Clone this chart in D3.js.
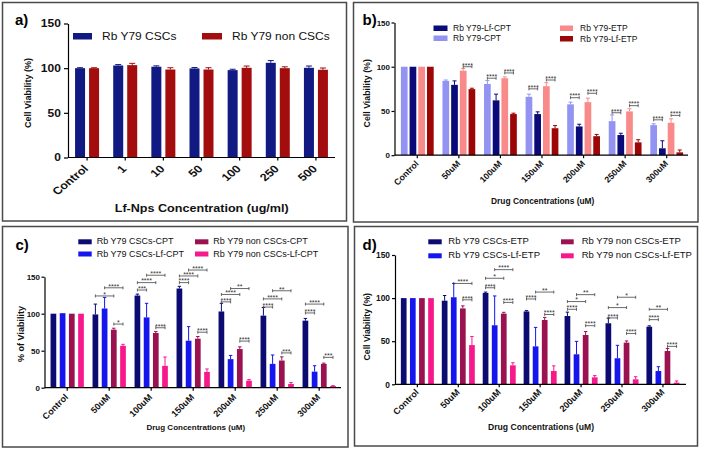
<!DOCTYPE html>
<html><head><meta charset="utf-8">
<script src="https://cdn.jsdelivr.net/npm/d3@7"></script>
<style>body{margin:0;background:#fff}svg{display:block}text{font-family:Arial,"Liberation Sans",sans-serif}</style>
</head><body><svg id="c" width="702" height="450"></svg>
<script>
// ---------- data ----------
const yTicks=[0,50,100,150];
const aCats=["Control","1","10","50","100","250","500"];
const aCSC=[100,103,101.6,99.7,97.8,106,100.4];
const aCSCErr=[0.5,1,1,1,1,2.5,2];
const aNon=[100,103.4,98.5,98.5,100.4,100,98.2];
const aNonErr=[0.5,2,2,2,2,1.5,2];

const drugCats=["Control","50uM","100uM","150uM","200uM","250uM","300uM"];
const bCPT=[100,84,80.5,66,57.5,38.5,34];
const bCPTErr=[0,1,4,3,2.5,7,1.5];
const bLfCPT=[100,79.5,62,46.5,32.5,22.8,7.8];
const bLfCPTErr=[0,4.5,7,2.5,2.5,2,8.5];
const bETP=[100,95.5,87,78,60,49.5,36.6];
const bETPErr=[0,2.5,1.5,4,4.5,3,4.5];
const bLfETP=[100,74.7,46.5,30.5,21.5,14.5,3.2];
const bLfETPErr=[0,1,1,3,2,3,2.7];
// [group, series from, series to, bracket value, label]
const bSig=[[1,2,3,100,"****"],[2,0,1,87,"****"],[2,2,3,93,"****"],[3,0,1,75,"****"],[3,2,3,85,"****"],
  [4,0,1,65,"****"],[4,2,3,70,"****"],[5,0,1,48,"****"],[5,2,3,56,"****"],[6,0,1,40,"****"],[6,2,3,45,"****"]];

const cCscCPT=[100,99,124.5,134,103,97.4,90.6];
const cCscCPTErr=[0,14,2,3,11,11,3];
const cCscLfCPT=[100.7,107,95,63.5,38.6,32.2,21.7];
const cCscLfCPTErr=[0,15,19,19,5,12,8];
const cNonCPT=[100,78.4,73.9,66.2,52.2,36.7,32.2];
const cNonCPTErr=[0,2,2,3,3,5,1];
const cNonLfCPT=[100,56.6,29.5,21.3,9.5,5,2.3];
const cNonLfCPTErr=[0,2,12,4,1.5,2,0.5];
const cSig=[[1,0,2,124,"*"],[1,1,3,135,"****"],[1,2,3,86,"*"],
  [2,0,1,132,"***"],[2,0,2,142,"****"],[2,1,3,152,"****"],[2,2,3,81,"****"],
  [3,0,1,142,"****"],[3,0,2,151,"****"],[3,1,3,159,"****"],[3,2,3,75,"****"],
  [4,0,1,116,"****"],[4,0,2,126,"****"],[4,1,3,134,"**"],[4,2,3,63,"****"],
  [5,0,1,109,"****"],[5,0,2,120,"****"],[5,1,3,131,"**"],[5,2,3,47,"***"],
  [6,0,1,101,"****"],[6,0,2,113,"****"],[6,2,3,41,"***"]];

const dCscETP=[100,97,106,84.5,79.2,70.8,66.8];
const dCscETPErr=[0,6,1,1,4.5,6,1];
const dCscLfETP=[100,101,68.5,44,34.8,30.2,15.4];
const dCscLfETPErr=[0,16,34,22,15,15,5];
const dNonETP=[100,88,82,74.6,57.2,48.3,38.6];
const dNonETPErr=[0,3,1.5,3,4,2,3];
const dNonLfETP=[100,45.5,22,15.4,8.1,5.8,1.9];
const dNonLfETPErr=[0,10,3,6,2,3,2];
const dSig=[[1,1,3,117,"****"],[1,2,3,98,"****"],
  [2,0,1,112,"****"],[2,0,2,123,"*"],[2,1,3,133,"****"],[2,2,3,95,"****"],
  [3,0,1,99,"****"],[3,1,3,107,"**"],[3,2,3,81,"****"],
  [4,0,1,87,"****"],[4,0,2,96,"*"],[4,1,3,104,"**"],[4,2,3,68,"****"],
  [5,0,1,77,"****"],[5,0,2,89,"*"],[5,1,3,101,"*"],[5,2,3,59,"****"],
  [6,0,1,75,"****"],[6,0,2,87,"**"],[6,2,3,44,"****"]];

// ---------- drawing ----------
const svg=d3.select("#c");
function txt(g,x,y,s,o){
  o=o||{};
  const sx=o.sx||1, th=(o.rot||0)*Math.PI/180, c=Math.cos(th), sn=Math.sin(th);
  const m=[sx*c, sn, -sx*sn, c, x, y].map(v=>+v.toFixed(4));
  const t=g.append("text")
    .attr("transform",`matrix(${m.join(",")})`)
    .attr("font-size",o.size||9).attr("font-weight",o.bold?"bold":"normal")
    .attr("text-anchor",o.anchor||"start").attr("fill",o.fill||"#111").text(s);
  if(o.family) t.attr("font-family",o.family);
  return t;
}

function panel(cfg){
  const g=svg.append("g");
  const f=cfg.frame;
  g.append("rect").attr("x",f[0]).attr("y",f[1]).attr("width",f[2]-f[0]).attr("height",f[3]-f[1])
    .attr("fill","none").attr("stroke","#4a4a4a").attr("stroke-width",1.5);
  txt(g,cfg.tag[0],cfg.tag[1],cfg.tag[2],{size:15,bold:true,family:"'Liberation Serif','Times New Roman',serif",fill:"#000"});

  const x=d3.scaleBand().domain(cfg.cats).range([cfg.bx0,cfg.bx1]);
  const y=d3.scaleLinear().domain([0,150]).range([cfg.y0,cfg.y1]);
  const n=cfg.series.length;
  const gw=n*cfg.step-cfg.gap;
  const inner=d3.scaleBand().domain(d3.range(n)).range([0,gw]).paddingInner(cfg.gap/cfg.step);
  const bw=inner.bandwidth();
  const bx=(ci,si)=>x(cfg.cats[ci])+x.bandwidth()/2-gw/2+inner(si);

  cfg.series.forEach((s,si)=>{
    g.append("g").selectAll("rect").data(s.vals).join("rect")
      .attr("x",(d,i)=>bx(i,si)).attr("y",d=>y(d))
      .attr("width",bw).attr("height",d=>y(0)-y(d)).attr("fill",s.color);
    const eg=g.append("g").attr("stroke",s.color).attr("stroke-width",1).attr("fill","none");
    s.vals.forEach((v,i)=>{
      const e=s.errs[i]; if(!e) return;
      const cx=bx(i,si)+bw/2, cap=Math.max(1.5,bw*0.3);
      eg.append("path").attr("d",`M${cx},${y(v)}V${y(v+e)}M${cx-cap},${y(v+e)}H${cx+cap}`);
    });
  });

  // significance brackets
  const sg=g.append("g");
  (cfg.sig||[]).forEach(([ci,s1,s2,v,lab])=>{
    const xa=bx(ci,s1)+bw/2, xb=bx(ci,s2)+bw/2, yy=y(v);
    sg.append("path").attr("d",`M${xa},${yy-1.5}V${yy+1.5}M${xa},${yy}H${xb}M${xb},${yy-1.5}V${yy+1.5}`)
      .attr("stroke","#444").attr("stroke-width",0.8).attr("fill","none");
    txt(sg,(xa+xb)/2,yy+0.8,lab,{size:7,anchor:"middle",fill:"#333"});
  });

  // y axis
  const ya=g.append("g").attr("transform",`translate(${cfg.ax},0)`)
    .call(d3.axisLeft(y).tickValues(yTicks).tickSize(cfg.ytick).tickSizeOuter(0).tickPadding(cfg.ypad));
  ya.select(".domain").attr("stroke","#000").attr("stroke-width",1.2);
  ya.selectAll(".tick line").attr("stroke","#000").attr("stroke-width",1.2);
  ya.selectAll(".tick text").attr("font-size",cfg.yts).attr("font-weight","bold").attr("fill","#111")
    .attr("font-family","Arial,'Liberation Sans',sans-serif")
    .attr("transform",`scale(${cfg.sx},1)`);
  // x axis
  const xa=g.append("g").attr("transform",`translate(0,${cfg.y0})`)
    .call(d3.axisBottom(x).tickSize(3).tickSizeOuter(0));
  xa.select(".domain").remove();
  xa.selectAll(".tick text").remove();
  xa.selectAll(".tick line").attr("stroke","#000").attr("stroke-width",1.2);
  cfg.cats.forEach(c=>{
    txt(g,x(c)+x.bandwidth()/2+cfg.lx,cfg.y0+cfg.ly,c,{size:cfg.xts,bold:true,anchor:"end",rot:-45,sx:cfg.sx});
  });
  g.append("line").attr("x1",cfg.ax).attr("x2",cfg.axEnd).attr("y1",cfg.y0).attr("y2",cfg.y0)
    .attr("stroke","#000").attr("stroke-width",1.2);

  // titles
  txt(g,cfg.yt[0],cfg.yt[1],cfg.yt[2],{size:cfg.yt[3],bold:true,anchor:"middle",rot:-90,sx:1});
  txt(g,cfg.xt[0],cfg.xt[1],cfg.xt[2],{size:cfg.xt[3],bold:true,anchor:"middle",sx:cfg.sx});

  // legend
  cfg.legend.forEach(L=>{
    const s=cfg.series[L.si];
    g.append("rect").attr("x",L.x).attr("y",L.y).attr("width",L.w).attr("height",L.h).attr("fill",s.color);
    txt(g,L.tx,L.y+L.h,s.name,{size:cfg.lgs,sx:cfg.sx});
  });
}

// panel a
panel({frame:[2.5,2.5,346.5,221],tag:[15,25,"a)"],cats:aCats,
  bx0:68,bx1:335,ax:68,axEnd:335,y0:157.5,y1:23.5,step:14,gap:4,sx:1.2,
  ytick:4,ypad:2,yts:10,xts:10.5,lx:2,ly:12,
  yt:[31,93,"Cell Viability (%)",9],xt:[201.7,211.5,"Lf-Nps Concentration (ug/ml)",10.5],lgs:10,
  series:[{name:"Rb Y79 CSCs",vals:aCSC,errs:aCSCErr,color:"#101a82"},
          {name:"Rb Y79 non CSCs",vals:aNon,errs:aNonErr,color:"#a30d0d"}],
  legend:[{si:0,x:73,y:33,w:19,h:6.5,tx:102},{si:1,x:202,y:33,w:20,h:6.5,tx:232}]});

// panel b
panel({frame:[353.5,2.5,698,222],tag:[362.5,25,"b)"],cats:drugCats,
  bx0:396.5,bx1:687.5,ax:394.5,axEnd:688,y0:155.2,y1:22.5,step:8.7,gap:2,sx:1,
  ytick:3,ypad:1.5,yts:8,xts:8.7,lx:2,ly:9,
  yt:[370.3,93.3,"Cell Viability (%)",8.8],xt:[542.7,204,"Drug Concentrations (uM)",8.4],lgs:8.5,
  series:[{name:"Rb Y79-CPT",vals:bCPT,errs:bCPTErr,color:"#9394f2"},
          {name:"Rb Y79-Lf-CPT",vals:bLfCPT,errs:bLfCPTErr,color:"#0a0a78"},
          {name:"Rb Y79-ETP",vals:bETP,errs:bETPErr,color:"#f98a8a"},
          {name:"Rb Y79-Lf-ETP",vals:bLfETP,errs:bLfETPErr,color:"#9c0606"}],
  sig:bSig,
  legend:[{si:1,x:433.5,y:25.5,w:14,h:5.5,tx:453},{si:0,x:433.5,y:35.5,w:14,h:5.5,tx:453},
          {si:2,x:560,y:25.5,w:13,h:5.5,tx:580},{si:3,x:560,y:36,w:13,h:5.5,tx:580}]});

// panel c
panel({frame:[2.5,226.5,348,447],tag:[15.5,250,"c)"],cats:drugCats,
  bx0:46.2,bx1:340.2,ax:44.5,axEnd:341,y0:387.7,y1:276.7,step:9.2,gap:3.5,sx:1,
  ytick:3,ypad:1.5,yts:8,xts:9,lx:1.5,ly:10,
  yt:[23.7,334,"% of Viability",9],xt:[195.8,430,"Drug Concentrations (uM)",8],lgs:9,
  series:[{name:"Rb Y79 CSCs-CPT",vals:cCscCPT,errs:cCscCPTErr,color:"#0b0b72"},
          {name:"Rb Y79 CSCs-Lf-CPT",vals:cCscLfCPT,errs:cCscLfCPTErr,color:"#1515f0"},
          {name:"Rb Y79 non CSCs-CPT",vals:cNonCPT,errs:cNonCPTErr,color:"#9a1250"},
          {name:"Rb Y79 non CSCs-Lf-CPT",vals:cNonLfCPT,errs:cNonLfCPTErr,color:"#f7198c"}],
  sig:cSig,
  legend:[{si:0,x:78.3,y:239.3,w:13.4,h:5,tx:96.7},{si:1,x:78.3,y:251.5,w:13.4,h:5,tx:96.7},
          {si:2,x:195,y:239.3,w:13.4,h:5,tx:213.3},{si:3,x:195,y:251.5,w:13.4,h:5,tx:213.3}]});

// panel d
panel({frame:[354.5,226.5,697.5,446],tag:[362.5,250,"d)"],cats:drugCats,
  bx0:396.9,bx1:683.4,ax:395,axEnd:686,y0:384.3,y1:255,step:9.1,gap:3.4,sx:1,
  ytick:3,ypad:2,yts:8.4,xts:9,lx:2,ly:8.5,
  yt:[370.3,326.7,"Cell Viability (%)",8.7],xt:[541,430,"Drug Concentrations (uM)",8.6],lgs:9.5,
  series:[{name:"Rb Y79 CSCs-ETP",vals:dCscETP,errs:dCscETPErr,color:"#0b0b72"},
          {name:"Rb Y79 CSCs-Lf-ETP",vals:dCscLfETP,errs:dCscLfETPErr,color:"#1515f0"},
          {name:"Rb Y79 non CSCs-ETP",vals:dNonETP,errs:dNonETPErr,color:"#9a1250"},
          {name:"Rb Y79 non CSCs-Lf-ETP",vals:dNonLfETP,errs:dNonLfETPErr,color:"#f7198c"}],
  sig:dSig,
  legend:[{si:0,x:428.3,y:239.3,w:13.4,h:5,tx:448.3},{si:1,x:428.3,y:253.3,w:13.4,h:5,tx:448.3},
          {si:2,x:561,y:239.3,w:12.7,h:5,tx:581.7},{si:3,x:561,y:253.3,w:12.7,h:5,tx:581.7}]});
</script></body></html>
